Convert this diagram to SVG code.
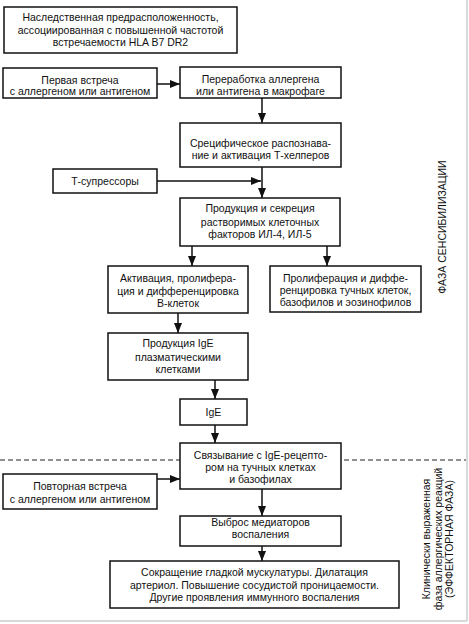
<svg xmlns="http://www.w3.org/2000/svg" width="469" height="624" viewBox="0 0 469 624">
<style>
.b{fill:#fff;stroke:#111;stroke-width:1.5}
.t{font-family:"Liberation Sans",Arial,sans-serif;font-size:10.5px;fill:#111;text-anchor:middle}
.v{font-family:"Liberation Sans",Arial,sans-serif;font-size:10.5px;fill:#111;text-anchor:middle}
.c{stroke:#111;stroke-width:1.5;fill:none}
</style>
<defs>
<marker id="ah" markerWidth="10" markerHeight="8" refX="10" refY="4" orient="auto" markerUnits="userSpaceOnUse">
<path d="M0,0 L10,4 L0,8 Z" fill="#111"/>
</marker>
</defs>
<rect x="0" y="0" width="469" height="624" fill="#fff"/>
<line x1="467" y1="0" x2="467" y2="621" stroke="#ccc" stroke-width="1.5"/>
<line x1="0" y1="621" x2="467" y2="621" stroke="#ccc" stroke-width="1.5"/>
<line x1="0" y1="460" x2="466" y2="460" stroke="#222" stroke-width="1.1" stroke-dasharray="5,3"/>
<g id="connectors">
<line class="c" x1="157" y1="84" x2="180" y2="84" marker-end="url(#ah)"/>
<line class="c" x1="262" y1="98" x2="262" y2="123" marker-end="url(#ah)"/>
<line class="c" x1="262" y1="167" x2="262" y2="198" marker-end="url(#ah)"/>
<line class="c" x1="157" y1="181" x2="261" y2="181" marker-end="url(#ah)"/>
<line class="c" x1="192" y1="246" x2="192" y2="266" marker-end="url(#ah)"/>
<line class="c" x1="327" y1="246" x2="327" y2="266" marker-end="url(#ah)"/>
<line class="c" x1="178" y1="313" x2="178" y2="333" marker-end="url(#ah)"/>
<line class="c" x1="215" y1="380" x2="215" y2="399" marker-end="url(#ah)"/>
<line class="c" x1="215" y1="425" x2="215" y2="443" marker-end="url(#ah)"/>
<line class="c" x1="157" y1="479" x2="180" y2="479" marker-end="url(#ah)"/>
<line class="c" x1="262" y1="489" x2="262" y2="516" marker-end="url(#ah)"/>
<line class="c" x1="262" y1="546" x2="262" y2="561" marker-end="url(#ah)"/>
</g>
<g id="n1"><rect class="b" x="4" y="7" width="233" height="46"/>
<text class="t" x="120.5" y="21">Наследственная предрасположенность,</text>
<text class="t" x="120.5" y="33.5">ассоциированная с повышенной частотой</text>
<text class="t" x="120.5" y="46">встречаемости HLA B7 DR2</text></g>
<g id="n2"><rect class="b" x="3" y="68" width="154" height="30"/>
<text class="t" x="80" y="83.5">Первая встреча</text>
<text class="t" x="80" y="95">с аллергеном или антигеном</text></g>
<g id="n3"><rect class="b" x="180" y="67" width="161" height="31"/>
<text class="t" x="260.5" y="83">Переработка аллергена</text>
<text class="t" x="260.5" y="95">или антигена в макрофаге</text></g>
<g id="n4"><rect class="b" x="180" y="123" width="161" height="44"/>
<text class="t" x="260.5" y="146.5">Срецифическое распознава-</text>
<text class="t" x="260.5" y="158.5">ние и активация Т-хелперов</text></g>
<g id="n5"><rect class="b" x="53" y="169" width="104" height="24"/>
<text class="t" x="105" y="185">Т-супрессоры</text></g>
<g id="n6"><rect class="b" x="180" y="198" width="160" height="48"/>
<text class="t" x="260" y="212">Продукция и секреция</text>
<text class="t" x="260" y="225.5">растворимых клеточных</text>
<text class="t" x="260" y="238">факторов ИЛ-4, ИЛ-5</text></g>
<g id="n7"><rect class="b" x="108" y="266" width="140" height="47"/>
<text class="t" x="178" y="282">Активация, пролифера-</text>
<text class="t" x="178" y="294.5">ция и дифференцировка</text>
<text class="t" x="178" y="307">В-клеток</text></g>
<g id="n8"><rect class="b" x="270" y="266" width="151" height="46"/>
<text class="t" x="345.5" y="282">Пролиферация и диффе-</text>
<text class="t" x="345.5" y="294">ренцировка тучных клеток,</text>
<text class="t" x="345.5" y="306">базофилов и эозинофилов</text></g>
<g id="n9"><rect class="b" x="108" y="333" width="140" height="47"/>
<text class="t" x="178" y="347">Продукция IgE</text>
<text class="t" x="178" y="360.5">плазматическими</text>
<text class="t" x="178" y="373">клетками</text></g>
<g id="n10"><rect class="b" x="180" y="399" width="67" height="26"/>
<text class="t" x="213.5" y="416">IgE</text></g>
<g id="n11"><rect class="b" x="180" y="443" width="161" height="46"/>
<text class="t" x="260.5" y="459">Связывание с IgE-рецепто-</text>
<text class="t" x="260.5" y="471">ром на тучных клетках</text>
<text class="t" x="260.5" y="483">и базофилах</text></g>
<g id="n12"><rect class="b" x="3" y="474" width="154" height="35"/>
<text class="t" x="80" y="490">Повторная встреча</text>
<text class="t" x="80" y="503">с аллергеном или антигеном</text></g>
<g id="n13"><rect class="b" x="180" y="516" width="161" height="30"/>
<text class="t" x="260.5" y="526">Выброс медиаторов</text>
<text class="t" x="260.5" y="538">воспаления</text></g>
<g id="n14"><rect class="b" x="110" y="561" width="289" height="47"/>
<text class="t" x="254.5" y="576">Сокращение гладкой мускулатуры. Дилатация</text>
<text class="t" x="254.5" y="589">артериол. Повышение сосудистой проницаемости.</text>
<text class="t" x="254.5" y="601">Другие проявления иммунного воспаления</text></g>
<g id="phase1"><text class="v" transform="translate(446,227) rotate(-90)">ФАЗА СЕНСИБИЛИЗАЦИИ</text></g>
<g id="phase2" transform="translate(0,539) rotate(-90)">
<text class="v" x="0" y="430">Клинически выраженная</text>
<text class="v" x="0" y="441.5">фаза аллергических реакций</text>
<text class="v" x="0" y="453">(ЭФФЕКТОРНАЯ ФАЗА)</text></g>
</svg>
